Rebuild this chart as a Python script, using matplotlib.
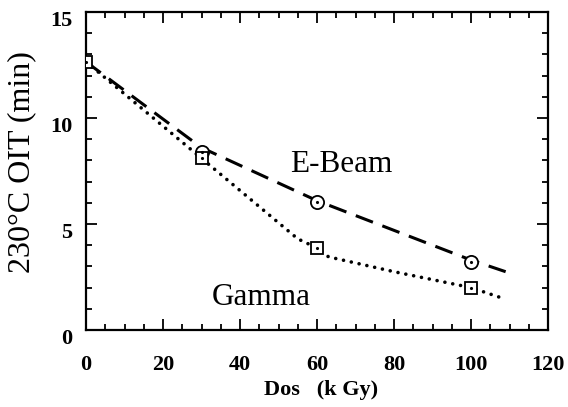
import numpy as np
import matplotlib.pyplot as plt
import matplotlib.transforms as mtransforms
from matplotlib.ticker import MultipleLocator

# measured OIT values
dose = [0, 30, 60, 100]
ebeam_oit = [12.65, 8.4, 6.05, 3.2]
gamma_oit = [12.65, 8.1, 3.87, 2.0]

# fitted trend curves
ebeam_fit_x = [0, 30, 60, 100, 109]
ebeam_fit_y = [12.65, 8.6, 6.1, 3.3, 2.75]
gamma_fit_x = [0, 30, 55, 60, 63, 80, 100, 109]
gamma_fit_y = [12.65, 8.1, 4.3, 3.87, 3.45, 2.75, 2.0, 1.45]

plt.rcParams['font.family'] = ['Liberation Serif', 'DejaVu Serif']

fig = plt.figure(figsize=(5.68, 4.07), dpi=100)
ax = fig.add_axes([86/568, 1-330/407, 462/568, 318/407])

ax.plot(ebeam_fit_x, ebeam_fit_y, color='black', lw=2.2, dashes=(6, 3.3), zorder=2)
ax.plot(gamma_fit_x, gamma_fit_y, color='black', lw=2.6, dashes=(0.01, 2.2),
        dash_capstyle='round', zorder=2)

# circles for E-Beam (first point shared with the square)
ax.plot(dose[1:], ebeam_oit[1:], ls='none', marker='o', ms=9.5, mfc='white',
        mec='black', mew=1.3, zorder=3)
ax.plot(dose, gamma_oit, ls='none', marker='s', ms=9, mfc='white',
        mec='black', mew=1.3, zorder=4)
ax.plot(dose[1:], ebeam_oit[1:], ls='none', marker='.', ms=2.5, color='black', zorder=5)
ax.plot(dose, gamma_oit, ls='none', marker='.', ms=2.5, color='black', zorder=5)

ax.text(53, 7.45, 'E-Beam', fontsize=22.5, ha='left', va='baseline')
ax.text(32.7, 1.18, 'Gamma', fontsize=22.5, ha='left', va='baseline')

ax.set_xlim(0, 120)
ax.set_ylim(0, 15)
ax.xaxis.set_major_locator(MultipleLocator(20))
ax.xaxis.set_minor_locator(MultipleLocator(5))
ax.yaxis.set_major_locator(MultipleLocator(5))
ax.yaxis.set_minor_locator(MultipleLocator(1))
ax.tick_params(which='both', direction='in', top=True, right=True, width=1.3)
ax.tick_params(which='major', length=8)
ax.tick_params(which='minor', length=4.5)
ax.tick_params(axis='x', pad=18)
ax.tick_params(axis='y', pad=10)
for sp in ax.spines.values():
    sp.set_linewidth(1.6)

for lab in ax.get_xticklabels() + ax.get_yticklabels():
    lab.set_fontsize(16)
    lab.set_fontweight('bold')
shift = mtransforms.ScaledTranslation(0, -6/100, fig.dpi_scale_trans)
for lab in ax.get_yticklabels():
    lab.set_transform(lab.get_transform() + shift)

fig.text(22/568, 1-162/407, '230°C OIT (min)', rotation=90, fontsize=23,
         ha='center', va='center')
fig.text(321/568, 1-390/407, 'Dos   (k Gy)', fontsize=16, fontweight='bold',
         ha='center', va='center')

fig.savefig('out.png', dpi=100)
